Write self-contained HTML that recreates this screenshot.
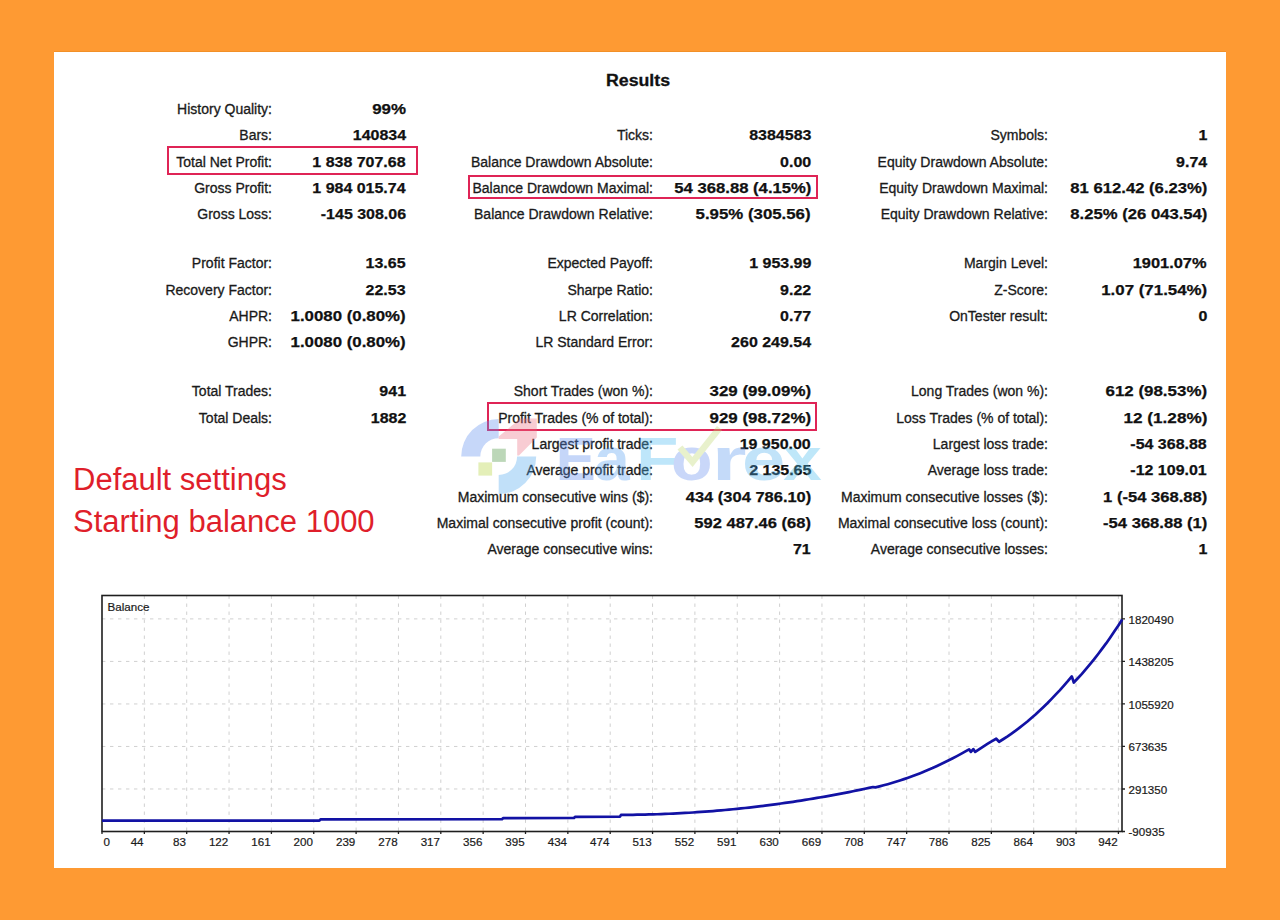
<!DOCTYPE html>
<html><head><meta charset="utf-8"><style>
html,body{margin:0;padding:0;}
body{width:1280px;height:920px;background:#FE9A33;position:relative;overflow:hidden;font-family:"Liberation Sans",sans-serif;}
#panel{position:absolute;left:54px;top:52px;width:1172px;height:816px;background:#fff;box-shadow:0 -1px 0 #F29028;}
.l,.v{position:absolute;white-space:nowrap;line-height:20px;height:20px;color:#1a1a1a;}
.l{font-size:14px;-webkit-text-stroke:0.3px #1a1a1a;}
.v{font-size:15px;font-weight:bold;color:#111;transform-origin:100% 50%;-webkit-text-stroke:0.25px #111;}
.box{position:absolute;border:2px solid #DF2456;box-sizing:border-box;}
#title{position:absolute;left:606.4px;top:70.8px;font-size:16px;font-weight:bold;line-height:20px;color:#111;transform:scaleX(1.107);transform-origin:0 50%;-webkit-text-stroke:0.3px #111;}
.red{position:absolute;left:73px;color:#DF1F2B;font-size:31px;line-height:40px;white-space:nowrap;}
</style></head><body>
<div id="panel"></div>
<div id="title">Results</div>
<div class="l" style="top:98.9px;right:1008px">History Quality:</div>
<div class="v" style="top:98.9px;right:874px;transform:scaleX(1.128)">99%</div>
<div class="l" style="top:125.2px;right:1008px">Bars:</div>
<div class="v" style="top:125.2px;right:874px;transform:scaleX(1.065)">140834</div>
<div class="l" style="top:151.5px;right:1008px">Total Net Profit:</div>
<div class="v" style="top:151.5px;right:874px;transform:scaleX(1.065)">1 838 707.68</div>
<div class="l" style="top:177.8px;right:1008px">Gross Profit:</div>
<div class="v" style="top:177.8px;right:874px;transform:scaleX(1.065)">1 984 015.74</div>
<div class="l" style="top:204.1px;right:1008px">Gross Loss:</div>
<div class="v" style="top:204.1px;right:874px;transform:scaleX(1.065)">-145 308.06</div>
<div class="l" style="top:253.2px;right:1008px">Profit Factor:</div>
<div class="v" style="top:253.2px;right:874px;transform:scaleX(1.065)">13.65</div>
<div class="l" style="top:279.5px;right:1008px">Recovery Factor:</div>
<div class="v" style="top:279.5px;right:874px;transform:scaleX(1.065)">22.53</div>
<div class="l" style="top:305.8px;right:1008px">AHPR:</div>
<div class="v" style="top:305.8px;right:874px;transform:scaleX(1.121)">1.0080 (0.80%)</div>
<div class="l" style="top:332.1px;right:1008px">GHPR:</div>
<div class="v" style="top:332.1px;right:874px;transform:scaleX(1.121)">1.0080 (0.80%)</div>
<div class="l" style="top:381.4px;right:1008px">Total Trades:</div>
<div class="v" style="top:381.4px;right:874px;transform:scaleX(1.065)">941</div>
<div class="l" style="top:407.6px;right:1008px">Total Deals:</div>
<div class="v" style="top:407.6px;right:874px;transform:scaleX(1.065)">1882</div>
<div class="l" style="top:125.2px;right:627px">Ticks:</div>
<div class="v" style="top:125.2px;right:469px;transform:scaleX(1.065)">8384583</div>
<div class="l" style="top:151.5px;right:627px">Balance Drawdown Absolute:</div>
<div class="v" style="top:151.5px;right:469px;transform:scaleX(1.065)">0.00</div>
<div class="l" style="top:177.8px;right:627px">Balance Drawdown Maximal:</div>
<div class="v" style="top:177.8px;right:469px;transform:scaleX(1.111)">54 368.88 (4.15%)</div>
<div class="l" style="top:204.1px;right:627px">Balance Drawdown Relative:</div>
<div class="v" style="top:204.1px;right:469px;transform:scaleX(1.121)">5.95% (305.56)</div>
<div class="l" style="top:253.2px;right:627px">Expected Payoff:</div>
<div class="v" style="top:253.2px;right:469px;transform:scaleX(1.065)">1 953.99</div>
<div class="l" style="top:279.5px;right:627px">Sharpe Ratio:</div>
<div class="v" style="top:279.5px;right:469px;transform:scaleX(1.065)">9.22</div>
<div class="l" style="top:305.8px;right:627px">LR Correlation:</div>
<div class="v" style="top:305.8px;right:469px;transform:scaleX(1.065)">0.77</div>
<div class="l" style="top:332.1px;right:627px">LR Standard Error:</div>
<div class="v" style="top:332.1px;right:469px;transform:scaleX(1.065)">260 249.54</div>
<div class="l" style="top:381.4px;right:627px">Short Trades (won %):</div>
<div class="v" style="top:381.4px;right:469px;transform:scaleX(1.128)">329 (99.09%)</div>
<div class="l" style="top:407.6px;right:627px">Profit Trades (% of total):</div>
<div class="v" style="top:407.6px;right:469px;transform:scaleX(1.128)">929 (98.72%)</div>
<div class="l" style="top:433.9px;right:627px">Largest profit trade:</div>
<div class="v" style="top:433.9px;right:469px;transform:scaleX(1.065)">19 950.00</div>
<div class="l" style="top:460.2px;right:627px">Average profit trade:</div>
<div class="v" style="top:460.2px;right:469px;transform:scaleX(1.065)">2 135.65</div>
<div class="l" style="top:486.6px;right:627px">Maximum consecutive wins ($):</div>
<div class="v" style="top:486.6px;right:469px;transform:scaleX(1.098)">434 (304 786.10)</div>
<div class="l" style="top:512.8px;right:627px">Maximal consecutive profit (count):</div>
<div class="v" style="top:512.8px;right:469px;transform:scaleX(1.101)">592 487.46 (68)</div>
<div class="l" style="top:539.1px;right:627px">Average consecutive wins:</div>
<div class="v" style="top:539.1px;right:469px;transform:scaleX(1.065)">71</div>
<div class="l" style="top:125.2px;right:232px">Symbols:</div>
<div class="v" style="top:125.2px;right:73px;transform:scaleX(1.065)">1</div>
<div class="l" style="top:151.5px;right:232px">Equity Drawdown Absolute:</div>
<div class="v" style="top:151.5px;right:73px;transform:scaleX(1.065)">9.74</div>
<div class="l" style="top:177.8px;right:232px">Equity Drawdown Maximal:</div>
<div class="v" style="top:177.8px;right:73px;transform:scaleX(1.111)">81 612.42 (6.23%)</div>
<div class="l" style="top:204.1px;right:232px">Equity Drawdown Relative:</div>
<div class="v" style="top:204.1px;right:73px;transform:scaleX(1.111)">8.25% (26 043.54)</div>
<div class="l" style="top:253.2px;right:232px">Margin Level:</div>
<div class="v" style="top:253.2px;right:73px;transform:scaleX(1.093)">1901.07%</div>
<div class="l" style="top:279.5px;right:232px">Z-Score:</div>
<div class="v" style="top:279.5px;right:73px;transform:scaleX(1.125)">1.07 (71.54%)</div>
<div class="l" style="top:305.8px;right:232px">OnTester result:</div>
<div class="v" style="top:305.8px;right:73px;transform:scaleX(1.065)">0</div>
<div class="l" style="top:381.4px;right:232px">Long Trades (won %):</div>
<div class="v" style="top:381.4px;right:73px;transform:scaleX(1.128)">612 (98.53%)</div>
<div class="l" style="top:407.6px;right:232px">Loss Trades (% of total):</div>
<div class="v" style="top:407.6px;right:73px;transform:scaleX(1.143)">12 (1.28%)</div>
<div class="l" style="top:433.9px;right:232px">Largest loss trade:</div>
<div class="v" style="top:433.9px;right:73px;transform:scaleX(1.065)">-54 368.88</div>
<div class="l" style="top:460.2px;right:232px">Average loss trade:</div>
<div class="v" style="top:460.2px;right:73px;transform:scaleX(1.065)">-12 109.01</div>
<div class="l" style="top:486.6px;right:232px">Maximum consecutive losses ($):</div>
<div class="v" style="top:486.6px;right:73px;transform:scaleX(1.105)">1 (-54 368.88)</div>
<div class="l" style="top:512.8px;right:232px">Maximal consecutive loss (count):</div>
<div class="v" style="top:512.8px;right:73px;transform:scaleX(1.105)">-54 368.88 (1)</div>
<div class="l" style="top:539.1px;right:232px">Average consecutive losses:</div>
<div class="v" style="top:539.1px;right:73px;transform:scaleX(1.065)">1</div>
<div class="box" style="left:167px;top:145.8px;width:251px;height:29.6px"></div>
<div class="box" style="left:468px;top:175px;width:350px;height:24px"></div>
<div class="box" style="left:487px;top:402px;width:330px;height:29px"></div>
<svg width="1280" height="920" style="position:absolute;left:0;top:0"><path d="M144.35 595.5V831.5 M186.70 595.5V831.5 M229.05 595.5V831.5 M271.40 595.5V831.5 M313.75 595.5V831.5 M356.10 595.5V831.5 M398.45 595.5V831.5 M440.80 595.5V831.5 M483.15 595.5V831.5 M525.50 595.5V831.5 M567.85 595.5V831.5 M610.20 595.5V831.5 M652.55 595.5V831.5 M694.90 595.5V831.5 M737.25 595.5V831.5 M779.60 595.5V831.5 M821.95 595.5V831.5 M864.30 595.5V831.5 M906.65 595.5V831.5 M949.00 595.5V831.5 M991.35 595.5V831.5 M1033.70 595.5V831.5 M1076.05 595.5V831.5 M1118.40 595.5V831.5 M102 788.98H1122 M102 746.46H1122 M102 703.94H1122 M102 661.42H1122 M102 618.90H1122" stroke="#d0d0d0" stroke-width="1" stroke-dasharray="3.4 4.6" fill="none"/><path d="M102.00 831.5v2.5 M144.35 831.5v2.5 M186.70 831.5v2.5 M229.05 831.5v2.5 M271.40 831.5v2.5 M313.75 831.5v2.5 M356.10 831.5v2.5 M398.45 831.5v2.5 M440.80 831.5v2.5 M483.15 831.5v2.5 M525.50 831.5v2.5 M567.85 831.5v2.5 M610.20 831.5v2.5 M652.55 831.5v2.5 M694.90 831.5v2.5 M737.25 831.5v2.5 M779.60 831.5v2.5 M821.95 831.5v2.5 M864.30 831.5v2.5 M906.65 831.5v2.5 M949.00 831.5v2.5 M991.35 831.5v2.5 M1033.70 831.5v2.5 M1076.05 831.5v2.5 M1118.40 831.5v2.5 M1122 831.50h3 M1122 788.98h3 M1122 746.46h3 M1122 703.94h3 M1122 661.42h3 M1122 618.90h3" stroke="#222" stroke-width="1.3" fill="none"/><rect x="102" y="595.5" width="1020" height="236.0" fill="none" stroke="#1e1e1e" stroke-width="1.6"/><path d="M102 820.7 L319.4 820.7 L320.5 819.4 L502 819.2 L503 818.2 L574 818.0 L575 816.9 L620 816.7 L621.0 814.87 L625.0 814.85 L629.0 814.82 L633.0 814.78 L637.0 814.72 L641.0 814.65 L645.0 814.57 L649.0 814.47 L653.0 814.36 L657.0 814.23 L661.0 814.09 L665.0 813.94 L669.0 813.77 L673.0 813.59 L677.0 813.4 L681.0 813.19 L685.0 812.97 L689.0 812.73 L693.0 812.49 L697.0 812.22 L701.0 811.95 L705.0 811.66 L709.0 811.35 L713.0 811.03 L717.0 810.7 L721.0 810.36 L725.0 810.0 L729.0 809.63 L733.0 809.24 L737.0 808.84 L741.0 808.42 L745.0 808.0 L749.0 807.56 L753.0 807.1 L757.0 806.63 L761.0 806.15 L765.0 805.65 L769.0 805.14 L773.0 804.62 L777.0 804.08 L781.0 803.53 L785.0 802.96 L789.0 802.38 L793.0 801.79 L797.0 801.19 L801.0 800.56 L805.0 799.93 L809.0 799.28 L813.0 798.62 L817.0 797.95 L821.0 797.26 L825.0 796.55 L829.0 795.84 L833.0 795.11 L837.0 794.36 L841.0 793.61 L845.0 792.83 L849.0 792.05 L853.0 791.25 L857.0 790.44 L861.0 789.61 L865.0 788.77 L869.0 787.92 L873.0 787.05 L875.5 787.35 L879.6 786.36 L883.6 785.31 L887.7 784.2 L891.8 783.03 L895.8 781.8 L899.9 780.51 L904.0 779.15 L908.1 777.74 L912.1 776.27 L916.2 774.74 L920.3 773.14 L924.3 771.49 L928.4 769.77 L932.5 768.0 L936.5 766.16 L940.6 764.27 L944.7 762.31 L948.8 760.29 L952.8 758.22 L956.9 756.08 L961.0 753.88 L965.0 751.62 L969.1 749.31 L970.9 751.9 L973.3 749.1 L975.2 751.9 L979.4 749.04 L983.6 746.29 L987.8 743.66 L992.0 741.15 L996.2 738.75 L999.1 741.76 L1003.1 739.25 L1007.2 736.62 L1011.2 733.85 L1015.3 730.94 L1019.3 727.91 L1023.3 724.74 L1027.4 721.45 L1031.4 718.01 L1035.5 714.45 L1039.5 710.76 L1043.5 706.93 L1047.6 702.97 L1051.6 698.88 L1055.6 694.66 L1059.7 690.3 L1063.7 685.82 L1067.8 681.2 L1071.8 676.45 L1073.8 682.54 L1077.8 678.28 L1081.9 673.85 L1085.9 669.23 L1089.9 664.43 L1094.0 659.44 L1098.0 654.28 L1102.0 648.93 L1106.1 643.4 L1110.1 637.69 L1114.1 631.79 L1118.2 625.72 L1122.2 619.46" stroke="#1212a4" stroke-width="2.7" fill="none" stroke-linejoin="round"/><g font-family="Liberation Sans" font-size="11.6" fill="#1a1a1a" stroke="#1a1a1a" stroke-width="0.2"><text x="103.4" y="845.7">0</text><text x="143.55" y="845.7" text-anchor="end">44</text><text x="185.90" y="845.7" text-anchor="end">83</text><text x="228.25" y="845.7" text-anchor="end">122</text><text x="270.60" y="845.7" text-anchor="end">161</text><text x="312.95" y="845.7" text-anchor="end">200</text><text x="355.30" y="845.7" text-anchor="end">239</text><text x="397.65" y="845.7" text-anchor="end">278</text><text x="440.00" y="845.7" text-anchor="end">317</text><text x="482.35" y="845.7" text-anchor="end">356</text><text x="524.70" y="845.7" text-anchor="end">395</text><text x="567.05" y="845.7" text-anchor="end">434</text><text x="609.40" y="845.7" text-anchor="end">474</text><text x="651.75" y="845.7" text-anchor="end">513</text><text x="694.10" y="845.7" text-anchor="end">552</text><text x="736.45" y="845.7" text-anchor="end">591</text><text x="778.80" y="845.7" text-anchor="end">630</text><text x="821.15" y="845.7" text-anchor="end">669</text><text x="863.50" y="845.7" text-anchor="end">708</text><text x="905.85" y="845.7" text-anchor="end">747</text><text x="948.20" y="845.7" text-anchor="end">786</text><text x="990.55" y="845.7" text-anchor="end">825</text><text x="1032.90" y="845.7" text-anchor="end">864</text><text x="1075.25" y="845.7" text-anchor="end">903</text><text x="1117.60" y="845.7" text-anchor="end">942</text><text x="1128.5" y="836.30">-90935</text><text x="1128.5" y="793.78">291350</text><text x="1128.5" y="751.26">673635</text><text x="1128.5" y="708.74">1055920</text><text x="1128.5" y="666.22">1438205</text><text x="1128.5" y="623.70">1820490</text></g><text x="107.5" y="610.6" font-family="Liberation Sans" font-size="11.6" fill="#1a1a1a" stroke="#1a1a1a" stroke-width="0.2">Balance</text></svg>
<div class="red" style="top:460.3px">Default settings</div>
<div class="red" style="top:502.3px">Starting balance 1000</div>
<svg width="1280" height="920" style="position:absolute;left:0;top:0;opacity:0.35"><path d="M461.2 456.6 A37.5 37.5 0 0 1 498.7 419.1 L498.7 438.20000000000005 A18.4 18.4 0 0 0 480.3 456.6 Z" fill="#5f8ff0"/><path d="M520.6 418.5 L536.8 418.5 L536.8 437.6 L519 455.4 L517.2 455.4 L517.2 439 L498.7 439 L498.7 436.5 Z" fill="#ed7082"/><path d="M536.2 456.6 A37.5 37.5 0 0 1 498.7 494.1 L498.7 475.0 A18.4 18.4 0 0 0 517.1 456.6 Z" fill="#4fa8f0"/><rect x="492.1" y="448.7" width="13.7" height="13.2" fill="#438e37"/><rect x="478.4" y="462.4" width="13.7" height="13.2" fill="#b4d437"/><text transform="translate(559.80 479.7) scale(0.993 1)" x="-4.05" y="0" font-family="Liberation Sans" font-weight="bold" font-size="60.5" fill="#5b8df0">E</text><text transform="translate(596.00 479.7) scale(1.054 1)" x="-1.77" y="0" font-family="Liberation Sans" font-weight="bold" font-size="60.5" fill="#56a0f2">a</text><text transform="translate(640.80 479.7) scale(1.140 1)" x="-4.05" y="0" font-family="Liberation Sans" font-weight="bold" font-size="60.5" fill="#48b8f2">F</text><text transform="translate(673.75 479.7) scale(1.125 1)" x="-2.37" y="0" font-family="Liberation Sans" font-weight="bold" font-size="60.5" fill="#6690f0">o</text><text transform="translate(717.50 479.7) scale(1.475 1)" x="-3.99" y="0" font-family="Liberation Sans" font-weight="bold" font-size="60.5" fill="#5a98f0">r</text><text transform="translate(745.00 479.7) scale(1.284 1)" x="-2.37" y="0" font-family="Liberation Sans" font-weight="bold" font-size="60.5" fill="#4fb0f0">e</text><text transform="translate(783.75 479.7) scale(1.144 1)" x="-0.41" y="0" font-family="Liberation Sans" font-weight="bold" font-size="60.5" fill="#48bcee">x</text><path d="M680 447.5 L692.5 462 L719.5 428" stroke="#c0d870" stroke-width="6.5" fill="none"/></svg>
</body></html>
